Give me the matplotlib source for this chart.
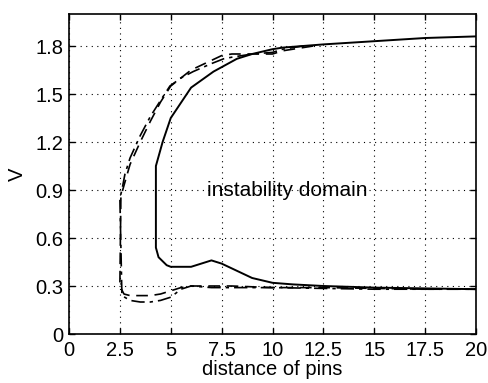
import matplotlib.pyplot as plt

plt.rcParams['font.family'] = ['Liberation Sans', 'DejaVu Sans']

# solid boundary (upper branch right-to-left, then lower branch left-to-right)
solid_x = [20, 17.5, 15, 12.5, 10.5, 10, 9, 8.25, 7.1, 6, 5, 4.6, 4.27,
           4.27, 4.4, 4.8, 5, 6, 6.5, 7, 7.5, 8, 9, 10, 11, 12.5, 15, 17.5, 20]
solid_v = [1.86, 1.85, 1.83, 1.81, 1.79, 1.78, 1.75, 1.72, 1.64, 1.54, 1.35, 1.2, 1.05,
           0.54, 0.48, 0.43, 0.42, 0.42, 0.44, 0.46, 0.44, 0.41, 0.35, 0.32, 0.31, 0.3, 0.29, 0.285, 0.28]

# dashed boundary
dash_x = [12, 11, 10.5, 10, 9, 8, 7.5, 7, 6, 5.5, 5, 4.5, 4, 3.5, 3, 2.75, 2.55,
          2.5, 2.7, 3, 3.5, 4, 4.5, 5, 5.5, 6, 7, 8, 10, 12.5, 15, 17.5, 20]
dash_v = [1.8, 1.78, 1.77, 1.75, 1.75, 1.75, 1.74, 1.71, 1.65, 1.6, 1.55, 1.45, 1.33, 1.2, 1.06, 0.95, 0.86,
          0.3, 0.25, 0.24, 0.24, 0.24, 0.25, 0.27, 0.29, 0.3, 0.3, 0.3, 0.29, 0.29, 0.285, 0.28, 0.28]

# dash-dot boundary
dashdot_x = [11.5, 10.5, 10, 9, 8, 7.6, 7, 6.1, 5.5, 4.96, 4.5, 4, 3.5, 3, 2.75, 2.6,
             2.5, 2.6, 3, 3.5, 4, 4.5, 5, 5.5, 6, 7, 8, 10, 12.5, 15, 17.5, 20]
dashdot_v = [1.8, 1.78, 1.76, 1.75, 1.73, 1.72, 1.69, 1.64, 1.6, 1.55, 1.46, 1.36, 1.24, 1.1, 1.0, 0.9,
             0.85, 0.24, 0.21, 0.2, 0.2, 0.21, 0.23, 0.28, 0.3, 0.29, 0.29, 0.29, 0.285, 0.28, 0.28, 0.28]

x_ticks = [0, 2.5, 5, 7.5, 10, 12.5, 15, 17.5, 20]
x_tick_labels = ['0', '2.5', '5', '7.5', '10', '12.5', '15', '17.5', '20']
v_ticks = [0, 0.3, 0.6, 0.9, 1.2, 1.5, 1.8]
v_tick_labels = ['0', '0.3', '0.6', '0.9', '1.2', '1.5', '1.8']

fig = plt.figure(figsize=(4.88, 3.83), dpi=100)
ax = fig.add_axes([69 / 488, 1 - 334 / 383, (476 - 69) / 488, (334 - 14) / 383])

ax.plot(solid_x, solid_v, color='black', linewidth=1.4, linestyle='-')
ax.plot(dash_x, dash_v, color='black', linewidth=1.2, linestyle=(0, (7, 4)))
ax.plot(dashdot_x, dashdot_v, color='black', linewidth=1.2, linestyle=(0, (8, 3, 2, 3)))

ax.text(6.8, 0.9, 'instability domain', fontsize=15, va='center', ha='left')

ax.set_xlim(0, 20)
ax.set_ylim(0, 2.0)
ax.set_xticks(x_ticks)
ax.set_xticklabels(x_tick_labels)
ax.set_yticks(v_ticks)
ax.set_yticklabels(v_tick_labels)
ax.tick_params(direction='in', top=True, right=True, labelsize=14.5, length=4, width=1)
ax.tick_params(axis='x', pad=5)
ax.tick_params(axis='y', pad=4)
ax.grid(True, color='black', linestyle=(0, (1, 4)), linewidth=0.8)
for sp in ax.spines.values():
    sp.set_linewidth(1.2)
ax.set_xlabel('distance of pins', fontsize=14.5, labelpad=0)
ax.set_ylabel('V', fontsize=14.5, labelpad=6)

fig.savefig('out.png', dpi=100)
